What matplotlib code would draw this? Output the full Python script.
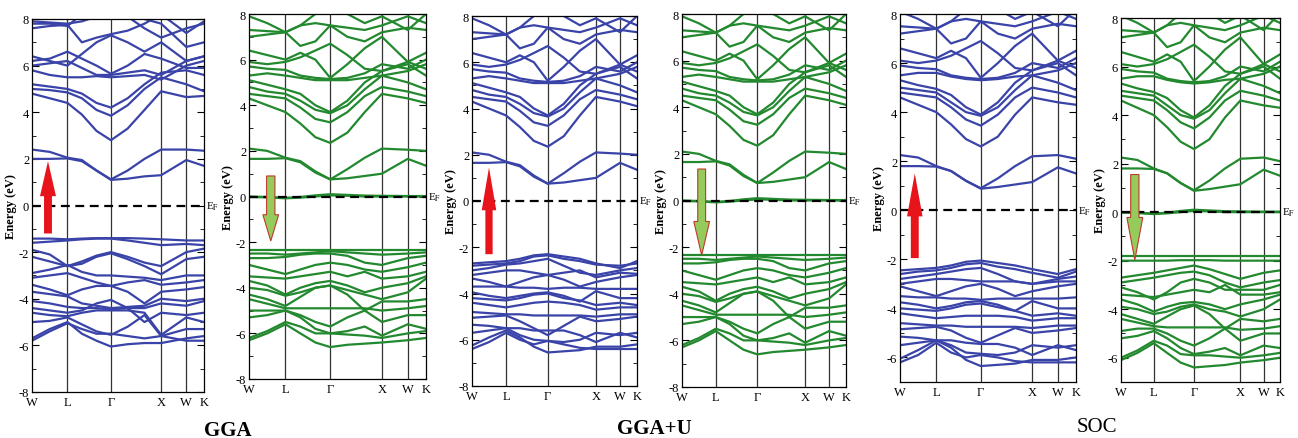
import matplotlib
matplotlib.use("Agg")
import matplotlib.pyplot as plt
from matplotlib.patches import FancyArrow
from matplotlib.ticker import MultipleLocator
import matplotlib.transforms as mtransforms

plt.rcParams['font.family'] = ['Liberation Serif', 'DejaVu Serif']
plt.rcParams['mathtext.fontset'] = 'stix'
plt.rcParams['axes.unicode_minus'] = False

# k-path W-L-G-X-W-K (fractions of the path length)
k_path = [0.0, 0.103, 0.206, 0.290, 0.375, 0.459, 0.556, 0.654, 0.751, 0.897, 1.0]
k_ticks = [0.0, 0.206, 0.459, 0.751, 0.897, 1.0]
k_names = ['W', 'L', 'Γ', 'X', 'W', 'K']

# ---- GGA spin up (blue) ----
cb_gga_up = [
    [2.0, 2.0, 2.02, 1.9, 1.5, 1.1, 1.15, 1.25, 1.3, 1.95, 1.7],
    [2.4, 2.3, 2.05, 1.95, 1.5, 1.12, 1.5, 2.0, 2.4, 2.4, 2.35],
    [4.8, 4.6, 4.4, 3.9, 3.2, 2.8, 3.3, 4.1, 4.9, 4.65, 4.7],
    [5.0, 4.95, 4.85, 4.6, 4.1, 3.85, 4.3, 5.0, 5.5, 5.2, 4.9],
    [5.2, 5.1, 5.0, 4.8, 4.4, 4.2, 4.6, 5.2, 5.7, 5.8, 5.6],
    [5.8, 5.6, 5.5, 5.5, 5.55, 5.5, 5.55, 5.6, 5.4, 6.0, 6.2],
    [6.0, 6.1, 6.2, 5.9, 5.6, 5.6, 5.7, 5.8, 5.6, 6.2, 6.4],
    [6.2, 6.3, 6.6, 6.3, 6.0, 5.65, 6.0, 6.5, 6.3, 5.9, 5.9],
    [6.4, 6.2, 6.0, 6.5, 7.0, 7.3, 7.0, 6.6, 7.0, 6.2, 6.4],
    [7.6, 7.7, 7.75, 7.0, 7.2, 7.35, 7.5, 7.8, 8.2, 7.4, 7.9],
    [7.8, 7.8, 7.7, 8.2, 8.5, 8.5, 8.3, 8.0, 7.8, 6.8, 7.0],
    [7.9, 7.85, 7.8, 7.9, 8.1, 8.3, 8.1, 7.6, 7.2, 7.6, 7.8],
]
vb_gga_up = [
    [-1.42, -1.42, -1.45, -1.42, -1.4, -1.4, -1.4, -1.42, -1.45, -1.5, -1.5],
    [-1.6, -1.55, -1.5, -1.45, -1.42, -1.42, -1.5, -1.6, -1.7, -1.65, -1.7],
    [-1.9, -2.1, -2.6, -2.4, -2.15, -2.0, -2.2, -2.45, -2.6, -2.0, -1.85],
    [-2.2, -2.4, -2.6, -2.5, -2.2, -2.05, -2.3, -2.6, -2.95, -2.3, -2.2],
    [-2.9, -2.75, -2.55, -2.85, -3.0, -3.0, -3.05, -3.1, -3.2, -3.0, -3.0],
    [-3.1, -3.0, -2.9, -3.1, -3.3, -3.45, -3.3, -3.2, -3.4, -3.3, -3.2],
    [-3.4, -3.6, -3.85, -3.6, -3.45, -3.45, -3.7, -4.2, -3.7, -3.6, -3.5],
    [-3.7, -3.8, -3.9, -4.2, -4.3, -4.4, -4.35, -4.3, -4.0, -4.1, -4.0],
    [-4.1, -4.2, -4.35, -4.4, -4.4, -4.45, -4.4, -4.4, -4.2, -4.3, -4.1],
    [-4.4, -4.5, -4.6, -4.5, -4.2, -4.05, -4.4, -5.0, -4.6, -4.7, -4.6],
    [-4.6, -4.7, -4.75, -4.6, -4.5, -4.5, -4.5, -4.6, -5.55, -4.8, -5.0],
    [-5.0, -4.95, -4.8, -5.1, -5.4, -5.55, -5.2, -4.7, -5.6, -5.3, -5.3],
    [-5.7, -5.3, -5.0, -5.5, -5.8, -6.05, -5.95, -5.9, -5.9, -5.7, -5.6],
    [-5.8, -5.4, -5.05, -5.3, -5.5, -5.5, -5.6, -5.7, -5.6, -5.8, -5.8],
]

# ---- GGA / GGA+U conduction bands (nearly identical in panels 2-4) ----
cb_ggau = [
    [2.1, 2.0, 1.7, 1.55, 1.1, 0.75, 1.2, 1.7, 2.1, 2.05, 2.0],
    [1.65, 1.65, 1.68, 1.5, 1.05, 0.75, 0.8, 0.9, 1.0, 1.65, 1.35],
    [4.3, 4.0, 3.7, 3.2, 2.6, 2.35, 2.8, 3.7, 4.5, 4.3, 4.1],
    [4.5, 4.4, 4.3, 3.9, 3.4, 3.25, 3.7, 4.4, 4.8, 4.6, 4.4],
    [4.8, 4.6, 4.5, 4.2, 3.8, 3.65, 4.0, 4.7, 5.3, 5.0, 4.7],
    [5.1, 4.9, 4.7, 4.5, 4.0, 3.7, 4.2, 5.0, 5.5, 5.8, 5.3],
    [5.3, 5.4, 5.3, 5.2, 5.1, 5.1, 5.1, 5.2, 5.3, 5.5, 5.8],
    [5.7, 5.6, 5.55, 5.3, 5.2, 5.15, 5.2, 5.4, 5.8, 5.6, 6.0],
    [5.9, 5.8, 5.9, 6.1, 6.4, 6.7, 6.2, 5.6, 5.5, 5.9, 5.6],
    [6.4, 6.2, 6.0, 6.3, 6.0, 5.2, 5.8, 6.5, 7.0, 5.9, 6.3],
    [7.0, 7.1, 7.2, 6.6, 6.8, 7.5, 7.0, 6.8, 7.2, 7.4, 7.3],
    [7.3, 7.25, 7.2, 7.5, 7.6, 7.5, 7.4, 7.3, 7.5, 7.9, 7.6],
    [7.9, 7.6, 7.2, 7.5, 8.0, 8.2, 8.0, 7.6, 7.9, 7.3, 8.0],
]
flat_dn = [
    [0.0, -0.02, -0.06, -0.02, 0.05, 0.1, 0.07, 0.04, 0.03, 0.02, 0.02],
    [-0.02, -0.04, -0.08, -0.05, 0.0, 0.05, 0.03, 0.0, 0.0, 0.0, 0.0],
]
vb_dn = [
    [-2.35, -2.35, -2.35, -2.35, -2.35, -2.35, -2.35, -2.35, -2.35, -2.35, -2.35],
    [-2.5, -2.5, -2.55, -2.5, -2.45, -2.4, -2.45, -2.5, -2.55, -2.5, -2.45],
    [-2.7, -2.7, -2.65, -2.55, -2.5, -2.5, -2.6, -2.9, -3.0, -2.7, -2.6],
    [-3.0, -3.2, -3.4, -3.2, -3.0, -2.9, -3.0, -3.2, -3.3, -3.1, -2.9],
    [-3.5, -3.55, -3.6, -3.5, -3.4, -3.3, -3.5, -3.3, -3.6, -3.5, -3.3],
    [-3.7, -3.9, -4.3, -4.0, -3.8, -3.7, -3.9, -4.2, -4.0, -3.8, -3.5],
    [-4.0, -4.1, -4.35, -4.2, -4.0, -3.9, -4.1, -4.3, -4.5, -4.2, -3.6],
    [-4.3, -4.5, -4.8, -4.4, -4.0, -3.9, -4.3, -5.0, -4.6, -4.6, -4.5],
    [-4.5, -4.7, -4.9, -4.9, -4.9, -4.9, -4.9, -4.9, -5.0, -4.9, -4.8],
    [-5.0, -5.0, -5.0, -5.2, -5.5, -5.7, -5.3, -5.0, -5.5, -5.2, -5.2],
    [-5.3, -5.2, -5.0, -5.3, -5.8, -6.0, -5.9, -5.7, -6.1, -5.6, -5.8],
    [-6.2, -5.9, -5.5, -5.7, -6.0, -6.0, -6.05, -6.1, -6.2, -6.0, -5.9],
    [-6.3, -6.0, -5.6, -6.0, -6.4, -6.6, -6.5, -6.45, -6.4, -6.3, -6.2],
]
vb_ggau_up = [
    [-2.7, -2.65, -2.6, -2.5, -2.35, -2.3, -2.4, -2.5, -2.7, -2.9, -2.6],
    [-2.8, -2.75, -2.7, -2.6, -2.4, -2.35, -2.5, -2.6, -2.75, -2.8, -2.7],
    [-3.0, -2.9, -2.75, -2.7, -2.6, -2.5, -2.8, -3.1, -3.2, -3.0, -2.9],
    [-3.2, -3.1, -3.0, -3.0, -3.1, -3.2, -3.1, -3.0, -3.3, -3.1, -3.15],
    [-3.35, -3.5, -3.7, -3.5, -3.3, -3.2, -3.4, -3.7, -3.5, -3.3, -3.2],
    [-3.7, -3.7, -3.7, -3.75, -3.75, -3.8, -3.75, -3.75, -3.8, -3.8, -3.8],
    [-3.95, -4.1, -4.2, -4.1, -4.0, -3.95, -4.1, -4.35, -3.9, -4.2, -4.2],
    [-4.2, -4.25, -4.3, -4.2, -4.05, -4.0, -4.2, -4.3, -4.5, -4.4, -4.5],
    [-4.4, -4.5, -4.6, -4.5, -4.4, -4.35, -4.4, -4.5, -4.7, -4.6, -4.6],
    [-4.8, -4.85, -4.9, -4.9, -4.95, -4.95, -4.95, -4.95, -5.0, -4.9, -4.9],
    [-5.05, -5.0, -4.95, -5.2, -5.5, -5.8, -5.4, -5.0, -5.2, -5.1, -5.0],
    [-5.35, -5.4, -5.5, -5.5, -5.6, -5.6, -5.6, -5.8, -6.1, -5.7, -5.9],
    [-5.7, -5.6, -5.5, -5.8, -6.0, -6.05, -6.1, -6.0, -5.7, -5.8, -5.7],
    [-6.25, -5.9, -5.6, -5.9, -6.3, -6.55, -6.5, -6.45, -6.3, -6.3, -6.2],
    [-6.4, -6.1, -5.7, -6.0, -6.2, -6.05, -6.2, -6.35, -6.4, -6.4, -6.4],
]

# ---- SOC ----
cb_soc = [
    [2.25, 2.15, 1.8, 1.6, 1.2, 0.9, 1.3, 1.8, 2.2, 2.25, 2.1],
    [1.8, 1.8, 1.78, 1.6, 1.2, 0.88, 0.95, 1.05, 1.15, 1.75, 1.5],
    [4.6, 4.3, 4.0, 3.5, 2.9, 2.6, 3.0, 3.9, 4.6, 4.4, 4.3],
    [4.8, 4.7, 4.6, 4.2, 3.7, 3.45, 3.9, 4.6, 5.0, 4.8, 4.6],
    [5.0, 4.9, 4.8, 4.4, 4.0, 3.85, 4.2, 4.9, 5.5, 5.2, 4.9],
    [5.3, 5.1, 4.95, 4.7, 4.2, 3.9, 4.4, 5.2, 5.7, 6.0, 5.5],
    [5.5, 5.6, 5.6, 5.45, 5.35, 5.3, 5.35, 5.45, 5.5, 5.7, 6.0],
    [5.9, 5.8, 5.75, 5.5, 5.4, 5.35, 5.4, 5.6, 6.0, 5.8, 6.2],
    [6.1, 6.0, 6.1, 6.3, 6.6, 6.9, 6.4, 5.8, 5.7, 6.1, 5.8],
    [6.6, 6.4, 6.2, 6.5, 6.2, 5.4, 6.0, 6.7, 7.2, 6.1, 6.5],
    [7.2, 7.3, 7.4, 6.8, 7.0, 7.7, 7.2, 7.0, 7.4, 7.6, 7.5],
    [7.5, 7.45, 7.4, 7.7, 7.8, 7.7, 7.6, 7.5, 7.7, 8.1, 7.8],
    [8.1, 7.8, 7.4, 7.7, 8.2, 8.4, 8.2, 7.8, 8.1, 7.5, 8.2],
]
vb_soc_up = [
    [-2.45, -2.4, -2.35, -2.25, -2.1, -2.05, -2.15, -2.25, -2.4, -2.6, -2.4],
    [-2.6, -2.5, -2.45, -2.35, -2.2, -2.15, -2.3, -2.4, -2.55, -2.75, -2.5],
    [-2.8, -2.7, -2.6, -2.5, -2.4, -2.35, -2.6, -2.9, -3.0, -2.8, -2.7],
    [-3.0, -2.9, -2.8, -2.8, -2.85, -2.9, -2.9, -2.9, -3.0, -2.9, -2.9],
    [-3.1, -3.3, -3.5, -3.3, -3.1, -3.0, -3.2, -3.5, -3.3, -3.1, -3.0],
    [-3.5, -3.55, -3.55, -3.6, -3.6, -3.65, -3.6, -3.6, -3.6, -3.6, -3.55],
    [-3.75, -3.85, -4.0, -3.9, -3.75, -3.7, -3.85, -4.1, -3.7, -4.0, -4.0],
    [-4.0, -4.05, -4.1, -4.0, -3.85, -3.8, -3.95, -4.1, -4.3, -4.2, -4.3],
    [-4.2, -4.3, -4.4, -4.35, -4.3, -4.3, -4.3, -4.35, -4.5, -4.4, -4.4],
    [-4.6, -4.65, -4.7, -4.7, -4.75, -4.75, -4.75, -4.75, -4.8, -4.7, -4.7],
    [-4.85, -4.8, -4.75, -4.9, -5.2, -5.4, -5.1, -4.8, -5.0, -4.9, -4.8],
    [-5.15, -5.2, -5.3, -5.3, -5.4, -5.45, -5.45, -5.6, -5.9, -5.5, -5.7],
    [-5.5, -5.4, -5.3, -5.5, -5.8, -5.85, -5.9, -5.8, -5.5, -5.6, -5.5],
    [-6.05, -5.7, -5.3, -5.6, -6.1, -6.35, -6.3, -6.25, -6.1, -6.1, -6.0],
    [-6.2, -5.9, -5.4, -5.8, -6.0, -5.9, -6.0, -6.15, -6.2, -6.2, -6.2],
]
vb_soc_dn = [
    [-1.8, -1.8, -1.8, -1.8, -1.8, -1.8, -1.8, -1.8, -1.8, -1.8, -1.8],
    [-2.0, -2.0, -2.0, -2.0, -1.98, -1.98, -1.98, -2.0, -2.0, -2.0, -2.0],
    [-2.7, -2.6, -2.5, -2.4, -2.3, -2.2, -2.35, -2.55, -2.75, -2.5, -2.4],
    [-2.9, -2.8, -2.7, -2.6, -2.5, -2.45, -2.6, -2.9, -3.1, -2.9, -2.8],
    [-3.1, -3.3, -3.6, -3.3, -2.9, -2.75, -2.9, -3.2, -3.2, -3.2, -3.0],
    [-3.4, -3.45, -3.5, -3.4, -3.3, -3.2, -3.3, -3.0, -3.4, -3.4, -3.3],
    [-3.6, -3.8, -4.1, -3.9, -3.75, -3.7, -3.8, -4.0, -3.8, -3.6, -3.4],
    [-3.9, -4.0, -4.2, -4.1, -3.9, -3.8, -4.0, -4.1, -4.3, -4.0, -3.6],
    [-4.2, -4.4, -4.6, -4.3, -4.0, -3.85, -4.2, -4.8, -4.4, -4.5, -4.4],
    [-4.4, -4.55, -4.7, -4.75, -4.75, -4.75, -4.75, -4.75, -4.85, -4.8, -4.7],
    [-4.9, -4.8, -4.8, -5.0, -5.3, -5.5, -5.2, -4.8, -5.3, -5.0, -5.0],
    [-5.2, -5.1, -4.9, -5.2, -5.6, -5.85, -5.75, -5.6, -5.9, -5.5, -5.6],
    [-6.0, -5.7, -5.3, -5.5, -5.85, -5.9, -5.9, -5.95, -6.0, -5.9, -5.8],
    [-6.1, -5.8, -5.4, -5.8, -6.2, -6.4, -6.35, -6.3, -6.2, -6.1, -6.0],
]

blue = '#3a44a8'
green = '#23892f'
W, H = 1298, 439

fig = plt.figure(figsize=(W / 100, H / 100), dpi=100)


def panel(box, ylim, bands, color, spin_up, arrow):
    """box = (left, top, right, bottom) in pixels"""
    l, t, r, b = box
    ax = fig.add_axes([l / W, 1 - b / H, (r - l) / W, (b - t) / H])
    for band in bands:
        ax.plot(k_path, band, color=color, lw=1.6, solid_joinstyle='round', zorder=2)
    for kx in k_ticks[1:-1]:
        ax.axvline(kx, color='#333333', lw=0.9, zorder=1)
    ax.axhline(0, color='k', lw=1.6, ls=(0, (4, 2.5)), zorder=3)
    ax.set_xlim(0, 1)
    ax.set_ylim(*ylim)
    ax.set_xticks(k_ticks)
    ax.set_xticklabels(k_names, fontsize=9)
    ax.tick_params(axis='x', length=0, pad=3)
    ax.yaxis.set_major_locator(MultipleLocator(2))
    ax.yaxis.set_minor_locator(MultipleLocator(1))
    ax.tick_params(axis='y', which='both', direction='in', left=True, right=True,
                   labelsize=9, pad=2)
    ax.tick_params(axis='y', which='major', length=5)
    ax.tick_params(axis='y', which='minor', length=3)
    ax.set_ylabel('Energy (eV)', fontsize=9, fontweight='bold', labelpad=1)
    for s in ax.spines.values():
        s.set_linewidth(0.9)
    trans = mtransforms.blended_transform_factory(ax.transAxes, ax.transData)
    ax.text(1.01, 0, r'E$_\mathrm{F}$', transform=trans, fontsize=8,
            va='center', ha='left', clip_on=False)
    x0, y0, y1, sw, hw, hl = arrow
    if spin_up:
        ax.add_patch(FancyArrow(x0, y0, 0, y1 - y0, width=sw, head_width=hw,
                                head_length=hl, length_includes_head=True,
                                fc='#e8141c', ec='none', zorder=4))
    else:
        ax.add_patch(FancyArrow(x0, y0, 0, y1 - y0, width=sw, head_width=hw,
                                head_length=hl, length_includes_head=True,
                                fc='#95cb5c', ec='#c0392b', lw=0.8, zorder=4))
    return ax


panel((32, 20, 204, 393), (-8, 8), cb_gga_up + vb_gga_up, blue, True,
      (0.093, -1.2, 1.9, 0.046, 0.093, 1.5))
panel((249, 15, 426, 380), (-8, 8), flat_dn + cb_ggau + vb_dn, green, False,
      (0.123, 0.9, -1.95, 0.047, 0.089, 1.15))
panel((472, 17, 637, 387), (-8, 8), cb_ggau + vb_ggau_up, blue, True,
      (0.103, -2.3, 1.45, 0.044, 0.088, 1.85))
panel((682, 15, 846, 388), (-8, 8), flat_dn + cb_ggau + vb_dn, green, False,
      (0.12, 1.35, -2.35, 0.048, 0.096, 1.45))
panel((900, 15, 1076, 383), (-7, 8), cb_soc + vb_soc_up, blue, True,
      (0.084, -1.95, 1.5, 0.045, 0.088, 1.75))
panel((1121, 19, 1280, 383), (-7, 8), flat_dn + cb_soc + vb_soc_dn, green, False,
      (0.087, 1.55, -1.97, 0.052, 0.10, 1.75))

fig.text(228 / W, 1 - 431 / H, 'GGA', fontsize=15, fontweight='bold', ha='center', va='center')
fig.text(654 / W, 1 - 429 / H, 'GGA+U', fontsize=15, fontweight='bold', ha='center', va='center')
fig.text(1097 / W, 1 - 428 / H, 'SOC', fontsize=15, ha='center', va='center')

fig.savefig('out.png', dpi=100)
